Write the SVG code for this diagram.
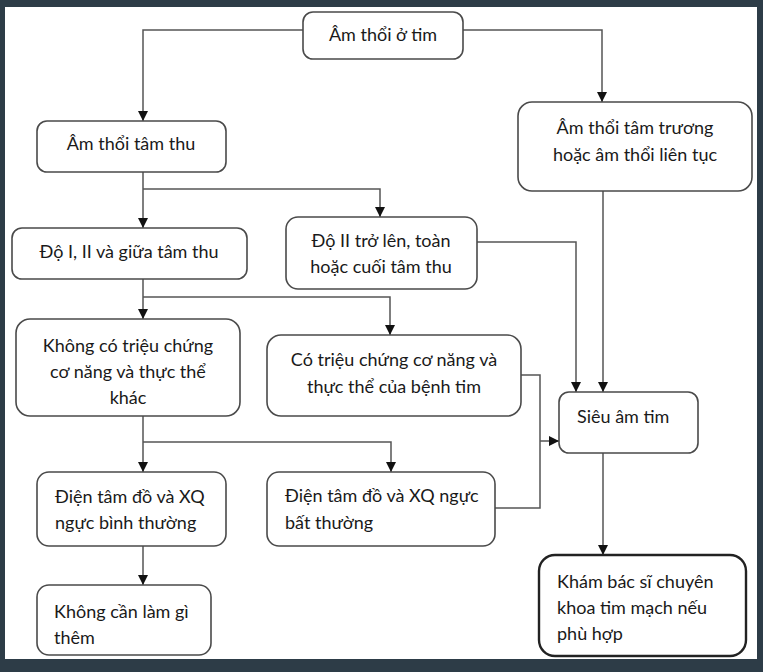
<svg xmlns="http://www.w3.org/2000/svg" width="763" height="672" viewBox="0 0 763 672">
<defs>
<style>
.box{fill:#fff;stroke:#4a4a4a;stroke-width:1.6}
.bold{stroke:#222;stroke-width:2.4}
.t{font-family:Lato,"Open Sans","Liberation Sans",sans-serif;font-size:18px;fill:#1a1a1a}
.c{text-anchor:middle}
.ln{fill:none;stroke:#555;stroke-width:1.5}
</style>
<marker id="ah" viewBox="0 0 10 10" refX="10" refY="5" markerWidth="10" markerHeight="10" markerUnits="userSpaceOnUse" orient="auto">
<path d="M0,0 L10,5 L0,10 Z" fill="#111"/>
</marker>
</defs>
<rect x="0" y="0" width="763" height="672" fill="#2d3c47"/>
<rect x="5" y="7" width="752" height="652" fill="#fff"/>
<g id="connectors">
<path class="ln" d="M303,30 H143 V121" marker-end="url(#ah)"/>
<path class="ln" d="M463,30 H602 V102" marker-end="url(#ah)"/>
<path class="ln" d="M143,172 V228" marker-end="url(#ah)"/>
<path class="ln" d="M143,189 H380 V217" marker-end="url(#ah)"/>
<path class="ln" d="M143,279 V319" marker-end="url(#ah)"/>
<path class="ln" d="M143,297 H390 V335" marker-end="url(#ah)"/>
<path class="ln" d="M143,416 V472" marker-end="url(#ah)"/>
<path class="ln" d="M143,442 H391 V472" marker-end="url(#ah)"/>
<path class="ln" d="M143,546 V585" marker-end="url(#ah)"/>
<path class="ln" d="M477,242 H576 V392" marker-end="url(#ah)"/>
<path class="ln" d="M603,191 V392" marker-end="url(#ah)"/>
<path class="ln" d="M521,375 H540 V508 H495"/>
<path class="ln" d="M540,441 H559" marker-end="url(#ah)"/>
<path class="ln" d="M603,453 V555" marker-end="url(#ah)"/>
</g>
<g id="n1"><rect class="box" x="303" y="12" width="160" height="47" rx="10"/><text class="t c" x="383" y="41">Âm thổi ở tim</text></g>
<g id="n2"><rect class="box" x="37" y="121" width="189" height="51" rx="10"/><text class="t c" x="131" y="150">Âm thổi tâm thu</text></g>
<g id="n3"><rect class="box" x="518" y="102" width="234" height="89" rx="14"/><text class="t c" x="635" y="134">Âm thổi tâm trương</text><text class="t c" x="635" y="161">hoặc âm thổi liên tục</text></g>
<g id="n4"><rect class="box" x="12" y="228" width="235" height="51" rx="10"/><text class="t c" x="129" y="258">Độ I, II và giữa tâm thu</text></g>
<g id="n5"><rect class="box" x="286" y="217" width="191" height="72" rx="12"/><text class="t c" x="381" y="247">Độ II trở lên, toàn</text><text class="t c" x="381" y="273">hoặc cuối tâm thu</text></g>
<g id="n6"><rect class="box" x="16" y="319" width="224" height="97" rx="14"/><text class="t c" x="128" y="352">Không có triệu chứng</text><text class="t c" x="128" y="378">cơ năng và thực thể</text><text class="t c" x="128" y="404">khác</text></g>
<g id="n7"><rect class="box" x="267" y="335" width="254" height="81" rx="14"/><text class="t c" x="394" y="366">Có triệu chứng cơ năng và</text><text class="t c" x="394" y="393">thực thể của bệnh tim</text></g>
<g id="n8"><rect class="box" x="559" y="392" width="139" height="61" rx="10"/><text class="t" x="577" y="423">Siêu âm tim</text></g>
<g id="n9"><rect class="box" x="37" y="472" width="189" height="74" rx="12"/><text class="t" x="55" y="503">Điện tâm đồ và XQ</text><text class="t" x="55" y="529">ngực bình thường</text></g>
<g id="n10"><rect class="box" x="267" y="472" width="228" height="74" rx="12"/><text class="t" x="285" y="502">Điện tâm đồ và XQ ngực</text><text class="t" x="285" y="529">bất thường</text></g>
<g id="n11"><rect class="box" x="37" y="585" width="174" height="70" rx="12"/><text class="t" x="54" y="618">Không cần làm gì</text><text class="t" x="54" y="644">thêm</text></g>
<g id="n12"><rect class="box bold" x="539" y="555" width="207" height="101" rx="16"/><text class="t" x="557" y="588">Khám bác sĩ chuyên</text><text class="t" x="557" y="614">khoa tim mạch nếu</text><text class="t" x="557" y="640">phù hợp</text></g>
</svg>
